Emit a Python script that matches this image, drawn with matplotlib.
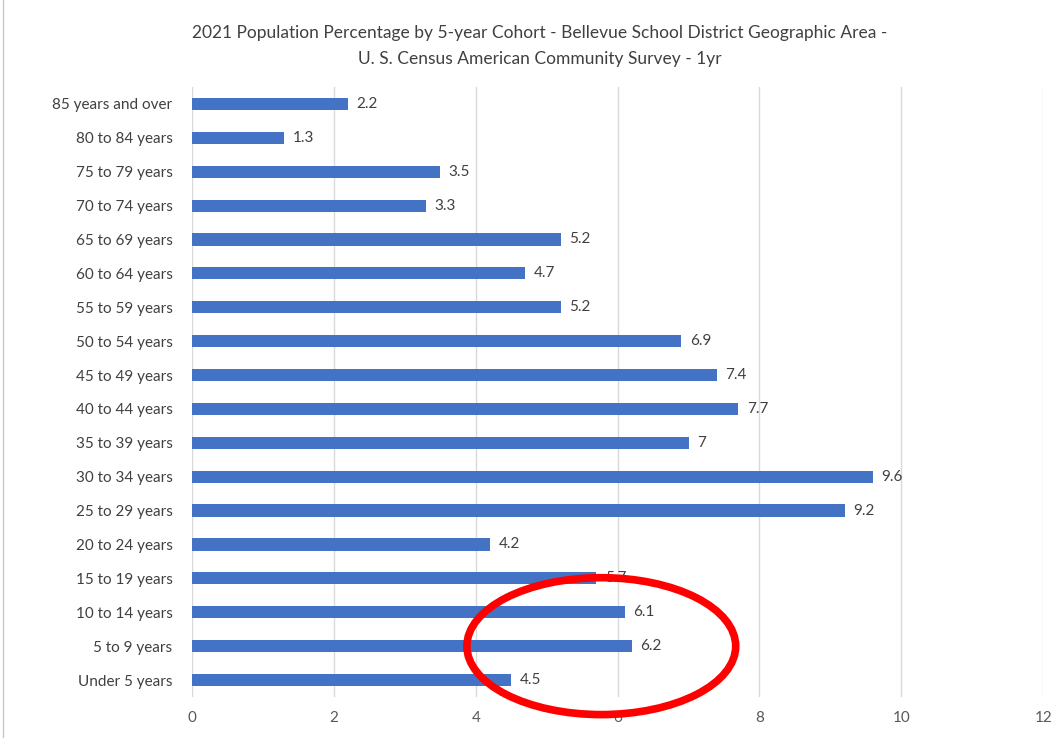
import matplotlib.pyplot as plt
from matplotlib.patches import Ellipse

# Age cohorts, bottom to top
cohorts = ['Under 5 years', '5 to 9 years', '10 to 14 years', '15 to 19 years',
           '20 to 24 years', '25 to 29 years', '30 to 34 years', '35 to 39 years',
           '40 to 44 years', '45 to 49 years', '50 to 54 years', '55 to 59 years',
           '60 to 64 years', '65 to 69 years', '70 to 74 years', '75 to 79 years',
           '80 to 84 years', '85 years and over']
pct = [4.5, 6.2, 6.1, 5.7, 4.2, 9.2, 9.6, 7, 7.7, 7.4, 6.9, 5.2, 4.7, 5.2, 3.3, 3.5, 1.3, 2.2]
labels = ['4.5', '6.2', '6.1', '5.7', '4.2', '9.2', '9.6', '7', '7.7', '7.4', '6.9',
          '5.2', '4.7', '5.2', '3.3', '3.5', '1.3', '2.2']
xticks = [0, 2, 4, 6, 8, 10, 12]

plt.rcParams['font.family'] = ['Lato', 'DejaVu Sans']

fig = plt.figure(figsize=(10.58, 7.38), dpi=100)
ax = fig.add_axes([0.1815, 0.0556, 0.8045, 0.8265])

y = list(range(len(cohorts)))
ax.barh(y, pct, height=0.36, color='#4472C4', zorder=3)
for yi, v, s in zip(y, pct, labels):
    ax.text(v + 0.12, yi, s, va='center', ha='left', fontsize=11, color='#404040')

ax.set_xlim(0, 12)
ax.set_ylim(-0.5, len(cohorts) - 0.5)
ax.set_yticks(y)
ax.set_yticklabels(cohorts, fontsize=11, color='#404040')
ax.set_xticks(xticks)
ax.set_xticklabels([str(t) for t in xticks], fontsize=11, color='#595959')
ax.tick_params(length=0, pad=14)
ax.tick_params(axis='x', pad=10)
ax.grid(axis='x', color='#d9d9d9', linewidth=1, zorder=0)
for sp in ax.spines.values():
    sp.set_visible(False)

fig.text(0.51, 0.955, '2021 Population Percentage by 5-year Cohort - Bellevue School District Geographic Area -',
         ha='center', va='center', fontsize=12.5, color='#404040')
fig.text(0.51, 0.920, 'U. S. Census American Community Survey - 1yr',
         ha='center', va='center', fontsize=12.5, color='#404040')

# red hand-drawn style highlight around the youngest cohorts
ax.add_patch(Ellipse((5.77, 1.0), 3.79, 4.04, fill=False, edgecolor='#ff0000',
                     linewidth=5.5, clip_on=False, zorder=5))

# thin frame line at the left edge
fig.add_artist(plt.Line2D([0.003, 0.003], [0, 1], color='#c8c8c8', linewidth=1))

fig.savefig('out.png', dpi=100)
